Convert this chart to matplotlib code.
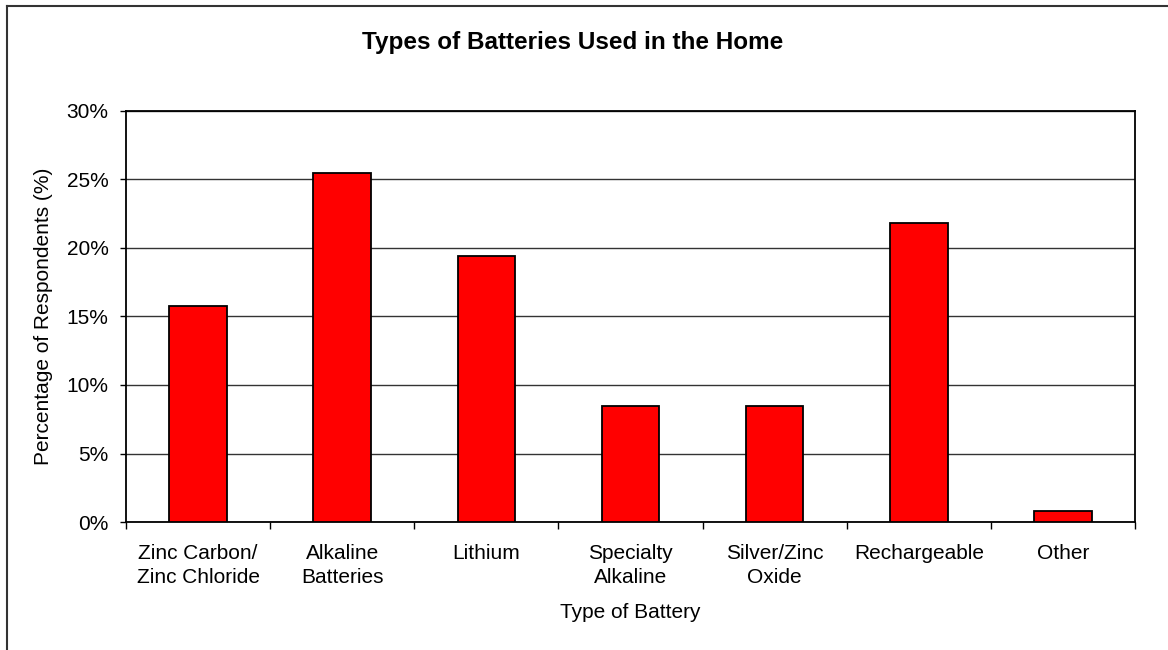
import matplotlib
matplotlib.use("Agg")
import matplotlib.pyplot as plt
from matplotlib.lines import Line2D
from matplotlib.ticker import FixedLocator, PercentFormatter

plt.rcParams['font.family'] = ['Liberation Sans', 'DejaVu Sans']

categories = ["Zinc Carbon/\nZinc Chloride", "Alkaline\nBatteries", "Lithium",
              "Specialty\nAlkaline", "Silver/Zinc\nOxide", "Rechargeable", "Other"]
values = [15.75, 25.45, 19.4, 8.5, 8.5, 21.85, 0.8]
yticks = [0, 5, 10, 15, 20, 25, 30]

W, H = 1168, 650
fig = plt.figure(figsize=(W / 100, H / 100), dpi=100)
ax = fig.add_axes([126 / W, 1 - 522 / H, (1135 - 126) / W, (522 - 111) / H])

x = list(range(len(categories)))
ax.set_axisbelow(True)
ax.yaxis.grid(True, color='#333333', linewidth=1.0)
ax.bar(x, values, width=0.40, color='#FF0000', edgecolor='black', linewidth=1.3, zorder=3)

ax.set_xlim(-0.5, len(categories) - 0.5)
ax.set_ylim(0, 30)
ax.set_yticks(yticks)
ax.yaxis.set_major_formatter(PercentFormatter(decimals=0))
ax.tick_params(axis='y', labelsize=15, length=4.5, width=1, pad=8)

ax.set_xticks(x)
ax.set_xticklabels(categories, fontsize=15, linespacing=1.3)
ax.tick_params(axis='x', which='major', length=0, pad=16)
ax.xaxis.set_minor_locator(FixedLocator([i - 0.5 for i in range(len(categories) + 1)]))
ax.tick_params(axis='x', which='minor', length=5, width=1, color='black')

for s in ax.spines.values():
    s.set_color('black')
    s.set_linewidth(1.3)

ax.set_xlabel("Type of Battery", fontsize=15, labelpad=12)
ax.set_ylabel("Percentage of Respondents (%)", fontsize=15, labelpad=10)

fig.text(573 / W, 1 - 42 / H, "Types of Batteries Used in the Home",
         fontsize=17.5, fontweight='bold', ha='center', va='center')

# outer chart frame (left and top edges visible)
fig.add_artist(Line2D([7 / W, 7 / W], [0, 1 - 6 / H], transform=fig.transFigure,
                      color='#333333', linewidth=1.5))
fig.add_artist(Line2D([7 / W, 1], [1 - 6 / H, 1 - 6 / H], transform=fig.transFigure,
                      color='#333333', linewidth=1.5))

fig.savefig("out.png", dpi=100, facecolor='white')
